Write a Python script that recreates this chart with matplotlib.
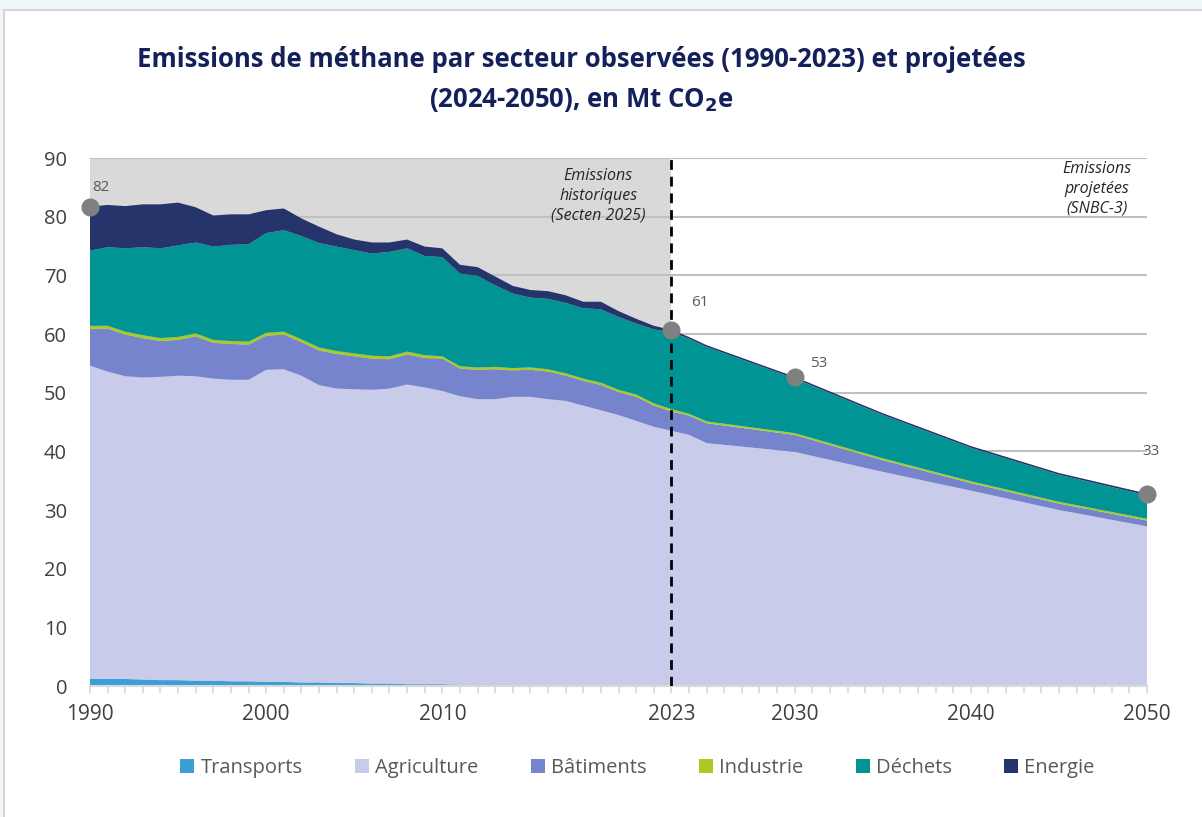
import numpy as np
import matplotlib.pyplot as plt
from matplotlib.patches import Rectangle

# years : annual history, then projection milestones
years = [1990, 1991, 1992, 1993, 1994, 1995, 1996, 1997, 1998, 1999,
         2000, 2001, 2002, 2003, 2004, 2005, 2006, 2007, 2008, 2009,
         2010, 2011, 2012, 2013, 2014, 2015, 2016, 2017, 2018, 2019,
         2020, 2021, 2022, 2023,
         2024, 2025, 2030, 2035, 2040, 2045, 2050]

# emissions par secteur, Mt CO2e
transports = [1.2, 1.2, 1.2, 1.1, 1.0, 1.0, 0.9, 0.9, 0.8, 0.8,
              0.7, 0.7, 0.6, 0.6, 0.5, 0.5, 0.4, 0.4, 0.3, 0.3,
              0.3, 0.2, 0.2, 0.2, 0.2, 0.1, 0.1, 0.1, 0.1, 0.1,
              0.1, 0.1, 0.1, 0.1,
              0.1, 0.1, 0.1, 0.1, 0.1, 0.1, 0.1]
agriculture = [53.4, 52.4, 51.6, 51.5, 51.7, 51.9, 51.9, 51.5, 51.4, 51.4,
               53.2, 53.3, 52.3, 50.7, 50.2, 50.1, 50.1, 50.3, 51.1, 50.6,
               50.0, 49.2, 48.7, 48.7, 49.1, 49.2, 48.8, 48.5, 47.7, 46.9,
               46.1, 45.1, 44.1, 43.4,
               42.7, 41.3, 39.8, 36.4, 33.2, 29.9, 27.1]
batiments = [6.3, 7.3, 7.1, 6.7, 6.1, 6.1, 6.8, 6.1, 6.1, 6.0,
             5.8, 5.9, 5.7, 5.9, 5.9, 5.6, 5.3, 5.0, 5.1, 5.0,
             5.5, 4.7, 5.0, 5.1, 4.5, 4.6, 4.7, 4.3, 4.2, 4.3,
             3.9, 4.1, 3.6, 3.3,
             3.3, 3.4, 2.9, 2.0, 1.3, 1.1, 1.0]
industrie = [0.5] * 20 + [0.4] * 14 + [0.3] * 7
dechets = [12.8, 13.4, 14.2, 15.0, 15.3, 15.6, 15.5, 15.9, 16.4, 16.6,
           17.0, 17.3, 17.6, 17.8, 17.8, 17.6, 17.4, 17.8, 17.6, 16.9,
           16.9, 15.8, 15.6, 13.9, 12.7, 11.9, 12.0, 12.0, 12.0, 12.5,
           12.4, 12.1, 12.6, 13.1,
           12.8, 12.7, 9.3, 7.4, 5.7, 4.6, 4.0]
energie = [7.5, 7.2, 7.2, 7.3, 7.5, 7.3, 6.0, 5.3, 5.2, 5.1,
           3.9, 3.7, 3.0, 2.8, 2.1, 1.8, 1.9, 1.6, 1.5, 1.6,
           1.5, 1.5, 1.5, 1.5, 1.3, 1.3, 1.3, 1.3, 1.1, 1.3,
           1.0, 0.8, 0.6, 0.4,
           0.3, 0.3, 0.3, 0.3, 0.3, 0.3, 0.3]

labels = ['Transports', 'Agriculture', 'Bâtiments', 'Industrie', 'Déchets', 'Energie']
colors = ['#3a9fd6', '#c8cbea', '#7584cc', '#a9c923', '#009494', '#25346b']

marked_years = [1990, 2023, 2030, 2050]
# where each total label sits relative to its dot (points)
label_offsets = [(1.5, 14), (14, 19.5), (11, 9.5), (-3.5, 30)]
xtick_years = [1990, 2000, 2010, 2023, 2030, 2040, 2050]

plt.rcParams['font.family'] = ['Open Sans', 'DejaVu Sans']

fig = plt.figure(figsize=(12.02, 8.17), dpi=100, facecolor='#eff6f7')
# white panel with light border
fig.patches.append(Rectangle((4 / 1202, -0.01), 1.02, (817 - 10) / 817 + 0.01,
                             transform=fig.transFigure, facecolor='white',
                             edgecolor='#d6d6d6', linewidth=1.5, zorder=-10))

ax = fig.add_axes([90 / 1202, 131 / 817, 1057 / 1202, 528 / 817])
ax.set_facecolor('none')

series = [transports, agriculture, batiments, industrie, dechets, energie]
stacks = ax.stackplot(years, *series, colors=colors, labels=labels, zorder=3,
                      linewidth=0)

# historic period shading
ax.axvspan(1990, 2023, ymin=0, ymax=1, color='#d9d9d9', zorder=0, linewidth=0)
for yv in range(10, 100, 10):
    ax.axhline(yv, color='#c0c0c0', linewidth=1.5, zorder=1)

ax.axvline(2023, color='black', linestyle=(0, (3.5, 2.5)), linewidth=2, zorder=5)

totals = np.sum(np.array(series), axis=0)
yr = np.array(years)
for y_m, off in zip(marked_years, label_offsets):
    t = totals[yr == y_m][0]
    ax.plot(y_m, t, 'o', color='#808080', markersize=12, zorder=6, clip_on=False)
    ax.annotate(f'{t:.0f}', (y_m, t), xytext=off, textcoords='offset points',
                fontsize=11, color='#595959', zorder=7, ha='left', va='center')

ax.text(2018.85, 88.3, 'Emissions\nhistoriques\n(Secten 2025)', ha='center', va='top',
        fontsize=11.5, style='italic', color='#262626', linespacing=1.3, zorder=7)
ax.text(2047.15, 89.5, 'Emissions\nprojetées\n(SNBC-3)', ha='center', va='top',
        fontsize=11.5, style='italic', color='#262626', linespacing=1.3, zorder=7)

ax.set_xlim(1990, 2050)
ax.set_ylim(0, 90)
ax.set_yticks(range(0, 100, 10))
ax.set_xticks(xtick_years)
ax.set_xticks(range(1990, 2051), minor=True)
ax.tick_params(axis='y', length=0, labelsize=14.5, labelcolor='#404040', pad=16.5)
ax.tick_params(axis='x', which='both', length=5, color='#d9d9d9', width=1.2,
               labelsize=15, labelcolor='#404040', pad=8)
for s in ['top', 'right', 'left']:
    ax.spines[s].set_visible(False)
ax.spines['bottom'].set_color('#d9d9d9')
ax.spines['bottom'].set_linewidth(1.5)
ax.spines['bottom'].set_zorder(4)

leg = ax.legend(loc='center', bbox_to_anchor=(0.518, -0.155), ncol=6, frameon=False,
                fontsize=14.5, handlelength=0.7, handleheight=0.7,
                handletextpad=0.3, columnspacing=2.6, labelcolor='#595959')

fig.text(0.4835, 0.927, 'Emissions de méthane par secteur observées (1990-2023) et projetées',
         ha='center', va='center', fontsize=18.5, fontweight='bold', color='#14205a')
fig.text(0.4835, 0.878, '(2024-2050), en Mt CO$_\\mathbf{2}$e',
         ha='center', va='center', fontsize=18.5, fontweight='bold', color='#14205a')

fig.savefig('out.png', dpi=100, facecolor=fig.get_facecolor())
